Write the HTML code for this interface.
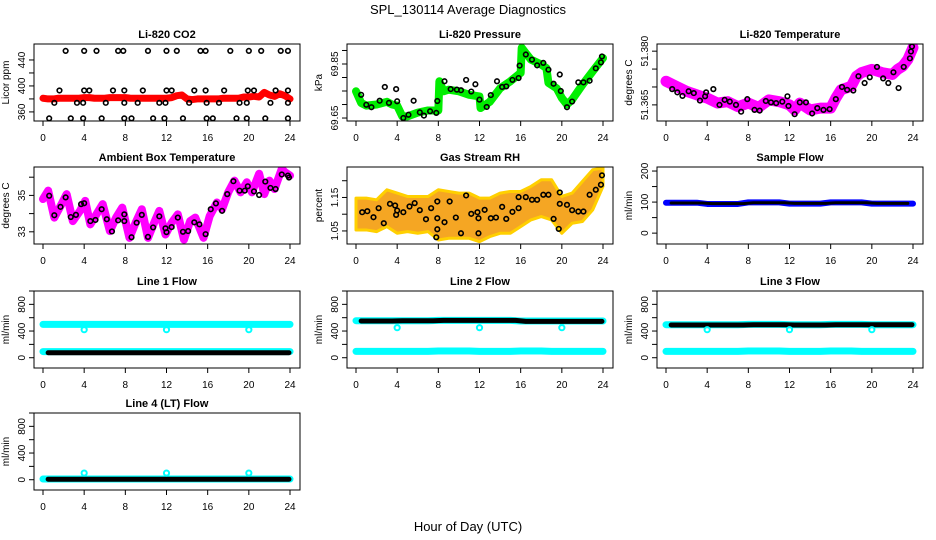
<!DOCTYPE html>
<html><head><meta charset="utf-8"><style>
html,body{margin:0;padding:0;background:#fff;}
svg{display:block;font-family:"Liberation Sans",Arial,sans-serif;}
</style></head><body>
<svg id="chart" width="936" height="540" viewBox="0 0 936 540">
<rect width="936" height="540" fill="#fff"/>
<text x="468" y="14" text-anchor="middle" font-size="13">SPL_130114  Average Diagnostics</text>
<text x="468" y="531" text-anchor="middle" font-size="13">Hour of Day (UTC)</text>
</svg>
<script>
// ---------- data ----------
const xTicks = [0,4,8,12,16,20,24];
// CO2
const co2Hours = [0,0.5,1,1.5,2,2.5,3,3.5,4,4.5,5,5.5,6,6.5,7,7.5,8,8.5,9,9.5,10,10.5,11,11.5,12,12.5,13,13.5,14,14.5,15,15.5,16,16.5,17,17.5,18,18.5,19,19.5,20,20.5,21,21.5,22,22.5,23,23.5,24];
const co2Values = [381,380,380,381,381,381,381,381,382,382,381,381,381,382,382,382,382,381,381,381,381,381,381,381,381,382,385,386,380,379,380,380,380,380,380,381,381,381,381,383,383,384,383,390,386,384,388,385,380];
const co2PtHours = [2.2,4,5.2,7.3,7.8,10.2,12,13,15.3,15.8,18.2,20,21.2,23.1,23.8, 1.6,4,4.5,6.8,7.9,9.7,12,12.5,14.7,15.8,17.6,19.9,20.5,22.6,23.8, 1.1,3.3,3.9,6.1,7.9,9.2,11.3,11.9,14.2,15.9,17.1,19.1,19.8,22.1,23.8, 0.6,2.7,3.9,5.7,7.9,8.6,10.7,11.8,13.6,15.9,16.5,18.8,19.8,21.6,23.8];
const co2PtValues = [454,454,454,454,454,454,454,454,454,454,454,454,454,454,454, 393,393,393,393,393,393,393,393,393,393,393,393,393,393,393, 374,374,374,374,374,374,374,374,374,374,374,374,374,374,374, 350,350,350,350,350,350,350,350,350,350,350,350,350,350,350];
// Pressure
const presHours = [0,0.5,1,2,3,3.5,4,4.5,5,6,7,8,8.1,8.5,9,10,11,12,12.1,13,14,15,16,16.1,16.5,17,18,18.5,18.7,19.5,20,20.5,21,22,23,24];
const presValues = [69.749,69.706,69.696,69.700,69.710,69.700,69.696,69.656,69.656,69.670,69.678,69.678,69.786,69.749,69.755,69.749,69.736,69.730,69.687,69.710,69.760,69.786,69.817,69.910,69.890,69.866,69.848,69.835,69.780,69.760,69.724,69.700,69.718,69.773,69.823,69.872];
const presPtHours = [0.5,1,1.5,2.3,2.8,3.2,3.9,4,4.6,5.1,5.6,6.2,6.6,7.2,7.8,7.9,8.6,9.2,9.8,10.2,10.7,11.2,11.6,12,12.7,13.1,13.7,14.2,14.6,15.2,15.8,15.9,16.5,17.1,17.6,18.2,18.7,19.2,19.8,19.9,20.5,21,21.6,22.1,22.7,23.3,23.8,23.9];
const presPtValues = [69.736,69.699,69.690,69.714,69.765,69.706,69.757,69.712,69.650,69.662,69.714,69.671,69.659,69.675,69.669,69.713,69.786,69.757,69.755,69.753,69.791,69.748,69.775,69.718,69.691,69.735,69.786,69.765,69.767,69.791,69.798,69.844,69.885,69.866,69.845,69.854,69.829,69.777,69.811,69.750,69.690,69.711,69.782,69.782,69.788,69.834,69.856,69.878];
// Li-820 temperature
const tempHours = [0,1,2,3,4,5,6,7,8,9,10,11,12,12.5,13,14,15,16,16.5,17,18,18.5,19,20,21,22,22.5,23,23.5,24];
const tempValues = [51.3716,51.3702,51.3688,51.3678,51.3669,51.3655,51.3659,51.3645,51.3655,51.3643,51.3664,51.3659,51.3650,51.3636,51.3655,51.3636,51.3641,51.3641,51.3669,51.3692,51.3702,51.3730,51.3740,51.3749,51.3740,51.3735,51.3749,51.3758,51.3777,51.3810];
const tempPtHours = [0.6,1.1,1.6,2.2,2.7,3.3,3.8,3.9,4.6,5.2,5.7,6.2,6.8,7.3,7.9,8.6,9.1,9.7,10.2,10.7,11.3,11.8,11.9,12.5,13,13.6,14.2,14.7,15.3,15.9,16.5,17.1,17.6,18.2,18.7,19.3,19.8,20.5,21.1,21.6,22.1,22.6,23.1,23.7,23.8,23.9];
const tempPtValues = [51.3694,51.3685,51.3675,51.3688,51.3683,51.3662,51.3674,51.3685,51.3694,51.3650,51.3664,51.3659,51.3650,51.3631,51.3666,51.3636,51.3634,51.3661,51.3657,51.3655,51.3659,51.3674,51.3647,51.3624,51.3657,51.3657,51.3626,51.3641,51.3636,51.3638,51.3666,51.3700,51.3692,51.3690,51.3730,51.3711,51.3727,51.3756,51.3724,51.3711,51.3741,51.3697,51.3756,51.3780,51.3799,51.3813];
// Ambient box temperature
const ambHours = [0,0.5,1.1,1.8,2.3,2.9,3.6,4.1,4.6,5.3,5.8,6.5,7.1,7.7,8.4,9.0,9.6,10.2,10.8,11.3,11.9,12.5,13.1,13.7,14.3,14.8,15.6,16.2,16.9,17.4,18.0,18.6,19.2,19.8,20.3,21.0,21.5,22.0,22.5,23.2,23.5,24];
const ambValues = [34.80,35.26,33.78,34.52,35.07,33.59,34.15,34.70,33.41,34.06,34.52,33.04,33.78,34.33,32.67,33.50,34.24,32.67,33.50,34.15,32.85,33.50,33.96,32.57,33.59,33.78,32.67,33.87,34.61,34.24,35.17,35.81,35.17,35.72,35.17,36.19,35.07,35.81,35.35,36.46,36.28,36.09];
const ambPtHours = [0.6,1.1,1.7,2.2,2.7,3.2,3.7,4,4.6,5.1,5.7,6.2,6.7,7.3,7.9,7.9,8.6,9.1,9.6,10.2,10.7,11.3,11.9,12,12.5,13.1,13.6,14.1,14.7,15.2,15.8,16.3,16.8,17.4,17.9,18.5,19.1,19.6,19.9,20.5,21,21.6,22.1,22.6,23.2,23.8,23.9];
const ambPtValues = [34.98,33.91,34.37,34.89,33.81,33.93,34.52,34.57,33.59,33.65,34.24,33.69,33.02,33.63,33.96,33.59,32.70,33.50,33.93,32.72,33.24,33.85,33.19,32.98,33.26,33.78,33.00,33.04,33.52,33.41,32.87,34.24,34.56,34.15,35.07,35.78,35.26,35.26,35.50,35.22,35.02,35.76,35.41,35.35,36.15,36.09,35.98];
// Gas stream RH (envelope of dense orange cloud)
const rhHours = [0,1,2,3,4,5,6,7,8,9,10,11,12,13,14,15,16,17,18,19,20,21,22,23,24];
const rhUpper = [1.148,1.148,1.143,1.173,1.163,1.153,1.153,1.153,1.173,1.168,1.163,1.163,1.148,1.148,1.163,1.168,1.168,1.183,1.203,1.203,1.153,1.163,1.198,1.233,1.238];
const rhLower = [1.053,1.053,1.048,1.063,1.043,1.048,1.043,1.048,1.023,1.028,1.028,1.028,1.018,1.033,1.043,1.043,1.063,1.083,1.093,1.083,1.043,1.073,1.078,1.113,1.183];
const rhPtHours = [0.6,1.1,1.7,2.2,2.7,3.3,3.8,3.9,4,4.6,5.2,5.7,6.2,6.8,7.3,7.9,7.9,7.9,7.8,8.6,9.1,9.7,10.2,10.7,11.2,11.8,11.9,11.9,12.5,13.1,13.6,14.2,14.6,15.2,15.8,15.8,16.5,17.1,17.6,18.2,18.7,19.2,19.7,19.8,19.8,20.5,21,21.6,22.1,22.7,23.3,23.8,23.9];
const rhPtValues = [1.106,1.109,1.091,1.118,1.073,1.131,1.126,1.098,1.111,1.106,1.123,1.133,1.112,1.085,1.118,1.088,1.055,1.138,1.031,1.076,1.138,1.090,1.043,1.156,1.101,1.106,1.088,1.043,1.113,1.088,1.090,1.122,1.086,1.107,1.118,1.151,1.151,1.143,1.143,1.158,1.158,1.086,1.056,1.165,1.131,1.128,1.112,1.108,1.108,1.158,1.173,1.188,1.216];
// Flows (hourly)
const hours = [0,1,2,3,4,5,6,7,8,9,10,11,12,13,14,15,16,17,18,19,20,21,22,23,24];
const sampleBlue  = [98,98,98,98,94,94,94,94,99,99,99,99,95,95,95,95,99,99,99,99,95,95,95,95,95];
const sampleBlack = [97,97,97,97,95,95,95,95,98,98,98,98,96,96,96,96,98,98,98,98,96,96,96,96,96];
const line1Cyan  = [500,500,500,500,500,500,500,500,500,500,500,500,500,500,500,500,500,500,500,500,500,500,500,500,500];
const line1Low   = [92,92,92,92,92,92,92,92,92,92,92,92,92,92,92,92,92,92,92,92,92,92,92,92,92];
const line1Black = [75,75,75,75,75,75,75,75,75,75,75,75,75,75,75,75,75,75,75,75,75,75,75,75,75];
const line2Cyan  = [555,555,555,555,555,555,555,555,560,560,560,560,560,560,560,560,550,550,550,550,550,550,550,550,550];
const line2Low   = [95,95,95,95,95,95,95,95,100,100,100,100,95,95,95,95,100,100,100,95,95,95,95,95,95];
const line2Black = [550,550,550,550,555,555,555,555,560,560,560,560,560,560,560,560,545,545,545,545,545,545,545,545,545];
const line3Cyan  = [495,495,495,495,495,495,495,495,500,500,500,500,495,495,495,495,500,500,500,500,495,495,495,495,495];
const line3Low   = [95,95,95,95,95,95,95,95,100,100,100,100,95,95,95,95,100,100,100,95,95,95,95,95,95];
const line3Black = [490,490,490,490,490,490,490,490,495,495,495,495,490,490,490,490,495,495,495,495,495,495,495,495,495];
const line4Cyan  = [10,10,10,10,10,10,10,10,10,10,10,10,10,10,10,10,10,10,10,10,10,10,10,10,10];
const line4Black = [8,8,8,8,8,8,8,8,8,8,8,8,8,8,8,8,8,8,8,8,8,8,8,8,8];
const dipHours = [4,12,20];
const line1Dips = [420,420,420];
const line2Dips = [450,450,450];
const line3Dips = [420,420,420];
const line4Dips = [100,100,100];

// ---------- drawing ----------
const svg = document.getElementById('chart');
const NS = 'http://www.w3.org/2000/svg';
function mk(tag, attrs, parent){
  const e = document.createElementNS(NS, tag);
  for (const k in attrs) e.setAttribute(k, attrs[k]);
  (parent||svg).appendChild(e);
  return e;
}
const colLeft = [34,347,657];
const rowTop = [44,167,291,413];
const PW = 266, PH = 77;

function panel(col,row,title,ytitle,ymin,ymax,yticks,ylabels){
  const L = colLeft[col], T = rowTop[row], B = T+PH;
  const g = mk('g',{});
  
  
  const sx = h => L + 9 + h/24*247;
  const sy = v => B - (v-ymin)/(ymax-ymin)*PH;
  const t = mk('text',{x:L+PW/2,y:T-6,'text-anchor':'middle','font-size':11,'font-weight':'bold'},g);
  t.textContent = title;
  
  
  const yt = mk('text',{x:0,y:0,'text-anchor':'middle','font-size':10,transform:`translate(${L-25},${T+PH/2}) rotate(-90)`},g);
  yt.textContent = ytitle;
  
  
  // x axis
  const xa = mk('g',{},g);
  
  
  mk('line',{x1:sx(0),x2:sx(24),y1:B,y2:B,stroke:'#000'},xa);
  xTicks.forEach(v=>{
    mk('line',{x1:sx(v),x2:sx(v),y1:B,y2:B+5,stroke:'#000'},xa);
    const tl = mk('text',{x:sx(v),y:B+20,'text-anchor':'middle','font-size':10},xa);
    tl.textContent = v;
    
    
  });
  // y axis
  const ya = mk('g',{},g);
  
  
  yticks.forEach(v=>{
    mk('line',{x1:L-5,x2:L,y1:sy(v),y2:sy(v),stroke:'#000'},ya);
  });
  ylabels.forEach(v=>{
    const tl = mk('text',{x:0,y:0,'text-anchor':'middle','font-size':10,transform:`translate(${L-9},${sy(v)}) rotate(-90)`},ya);
    tl.textContent = v;
    
    
  });
  const clipId = 'clip'+col+row;
  const cp = mk('clipPath',{id:clipId},g);
  mk('rect',{x:L,y:T,width:PW,height:PH},cp);
  const plot = mk('g',{'clip-path':`url(#${clipId})`},g);
  
  
  const box = mk('rect',{x:L,y:T,width:PW,height:PH,fill:'none',stroke:'#000','stroke-width':1},g);
  
  
  return {sx,sy,plot};
}
function band(p,hs,vs,color,w,name){
  const pts = hs.map((h,i)=>p.sx(h)+','+p.sy(vs[i])).join(' ');
  const pl = mk('polyline',{points:pts,fill:'none',stroke:color,'stroke-width':w,'stroke-linejoin':'round','stroke-linecap':'round'},p.plot);
  
  
  return pl;
}
function points(p,hs,vs,color,r,sw,name){
  hs.forEach((h,i)=>{
    const c = mk('circle',{cx:p.sx(h),cy:p.sy(vs[i]),r:r,fill:'none',stroke:color,'stroke-width':sw},p.plot);
    
    
  });
}

// CO2
let p = panel(0,0,'Li-820 CO2','Licor ppm',346,464.6,[360,380,400,420,440],[360,400,440]);
band(p,co2Hours,co2Values,'#ff0000',7,'co2-series');
points(p,co2PtHours,co2PtValues,'#000',2.3,1.6,'co2-point');
// Pressure
p = panel(1,0,'Li-820 Pressure','kPa',69.639,69.924,[69.65,69.70,69.75,69.80,69.85,69.90],['69.65','69.85']);
band(p,presHours,presValues,'#00ee00',8,'pressure-series');
points(p,presPtHours,presPtValues,'#000',2.3,1.6,'pressure-point');
// Li temp
p = panel(2,0,'Li-820 Temperature','degrees C',51.3605,51.382,[51.365,51.370,51.375,51.380],['51.365','51.380']);
band(p,tempHours,tempValues,'#ff00ff',11,'li820-temp-series');
points(p,tempPtHours,tempPtValues,'#000',2.3,1.6,'li820-temp-point');
// Ambient
p = panel(0,1,'Ambient Box Temperature','degrees C',32.33,36.56,[33,34,35,36],[33,35]);
band(p,ambHours,ambValues,'#ff00ff',8,'ambient-temp-series');
points(p,ambPtHours,ambPtValues,'#000',2.3,1.6,'ambient-temp-point');
// RH
p = panel(1,1,'Gas Stream RH','percent',1.011,1.241,[1.05,1.10,1.15,1.20],['1.05','1.15']);
{
  const up = rhHours.map((h,i)=>p.sx(h)+','+p.sy(rhUpper[i]));
  const lo = rhHours.map((h,i)=>p.sx(h)+','+p.sy(rhLower[i])).reverse();
  const pg = mk('polygon',{points:up.concat(lo).join(' '),fill:'#f5a623',stroke:'#ffd000','stroke-width':3,'stroke-linejoin':'round'},p.plot);
  
  
}
points(p,rhPtHours,rhPtValues,'#000',2.3,1.6,'rh-point');
// Sample flow
p = panel(2,1,'Sample Flow','ml/min',-35,213,[0,50,100,150,200],[0,100,200]);
band(p,hours,sampleBlue,'#0000ff',6,'sample-flow-blue');
band(p,hours.slice(0,24).map(h=>h+0.5),sampleBlack.slice(0,24),'#000',3,'sample-flow-black');
const flowTicks=[0,200,400,600,800,1000], flowLabels=[0,400,800];
function flowPanel(col,row,title,cyan,low,black,dips){
  const q = panel(col,row,title,'ml/min',-154,1000,flowTicks,flowLabels);
  band(q,hours,cyan,'#00ffff',7,'flow-cyan-high');
  if (low) band(q,hours,low,'#00ffff',7,'flow-cyan-low');
  band(q,hours.slice(0,24).map(h=>h+0.5).concat([23.9]),black,'#000',5,'flow-black');
  points(q,dipHours,dips,'#00ffff',2.6,2,'flow-dip-point');
}
flowPanel(0,2,'Line 1 Flow',line1Cyan,line1Low,line1Black,line1Dips);
flowPanel(1,2,'Line 2 Flow',line2Cyan,line2Low,line2Black,line2Dips);
flowPanel(2,2,'Line 3 Flow',line3Cyan,line3Low,line3Black,line3Dips);
flowPanel(0,3,'Line 4 (LT) Flow',line4Cyan,null,line4Black,line4Dips);
</script>
</body></html>
